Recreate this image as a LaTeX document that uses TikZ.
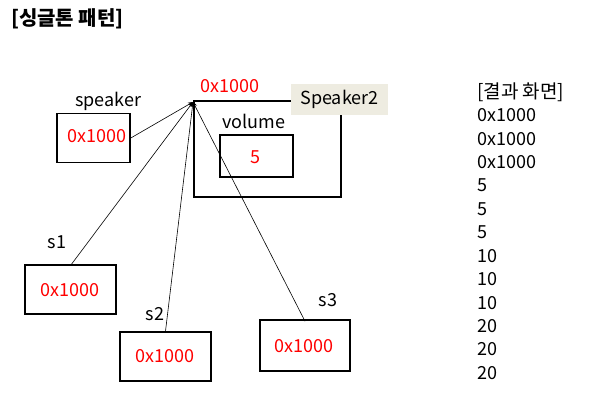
\documentclass[tikz,border=0pt]{standalone}
\usepackage{fontspec}
\setmainfont{Noto Sans CJK KR}
\usetikzlibrary{arrows.meta}
\begin{document}
\begin{tikzpicture}[x=1pt,y=-1pt,
  box/.style={draw=black,line width=1.6pt,inner sep=0pt},
  lbl/.style={inner sep=0pt,font=\fontsize{18}{21}\selectfont},
  val/.style={inner sep=0pt,text=red,font=\fontsize{18}{21}\selectfont},
  conn/.style={line width=0.6pt,-{Stealth[length=5pt,width=4pt]}}]
\useasboundingbox (0,0) rectangle (595,402);
% title
\node[anchor=west,inner sep=0pt,font=\bfseries\fontsize{20}{23}\selectfont] (title) at (11,19) {[싱글톤 패턴]};
% speaker
\node[box,minimum width=73pt,minimum height=49pt] (spk) at (93.5,138) {};
\node[val] (spkv) at (97,136) {0x1000};
\node[lbl] (spkl) at (108,101) {speaker};
% class box
\node[box,minimum width=147pt,minimum height=96pt] (cls) at (267.5,149) {};
\node[inner sep=0pt,fill={rgb,255:red,238;green,236;blue,225},minimum width=97pt,minimum height=31pt,font=\fontsize{18}{21}\selectfont] (cname) at (339.5,99.5) {Speaker2};
\node[val] (addr) at (230,86) {0x1000};
\node[lbl] (voll) at (254,121) {volume};
\node[box,minimum width=73pt,minimum height=42pt] (vol) at (256.5,156) {};
\node[val] (volv) at (255,157) {5};
\coordinate (tip) at (193,102);
% s1 s2 s3
\node[box,minimum width=91pt,minimum height=49pt] (s1) at (70.5,289.5) {};
\node[val] (s1v) at (70,290) {0x1000};
\node[lbl] (s1l) at (57,242) {s1};
\node[box,minimum width=91pt,minimum height=49pt] (s2) at (165.5,356.5) {};
\node[val] (s2v) at (165,356) {0x1000};
\node[lbl] (s2l) at (155,314) {s2};
\node[box,minimum width=90pt,minimum height=51pt] (s3) at (305,345.5) {};
\node[val] (s3v) at (304,346) {0x1000};
\node[lbl] (s3l) at (328,300) {s3};
% connectors
\draw[conn] (spk.east) -- (tip);
\draw[conn] (s1.north) ++(1,0) coordinate (s1t) -- (tip);
\draw[conn] (s2.north) -- (tip);
\draw[conn] (s3.north) ++(0,2) coordinate (s3t) -- (tip);
% result
\node[lbl,anchor=west,font=\fontsize{19}{22}\selectfont] (res) at (477,92) {[결과 화면]};
\foreach \t [count=\i] in {0x1000,0x1000,0x1000,5,5,5,10,10,10,20,20,20}{
  \node[lbl,anchor=west] (r\i) at (477,{92+23.4*\i}) {\t};
}
\end{tikzpicture}
\end{document}
